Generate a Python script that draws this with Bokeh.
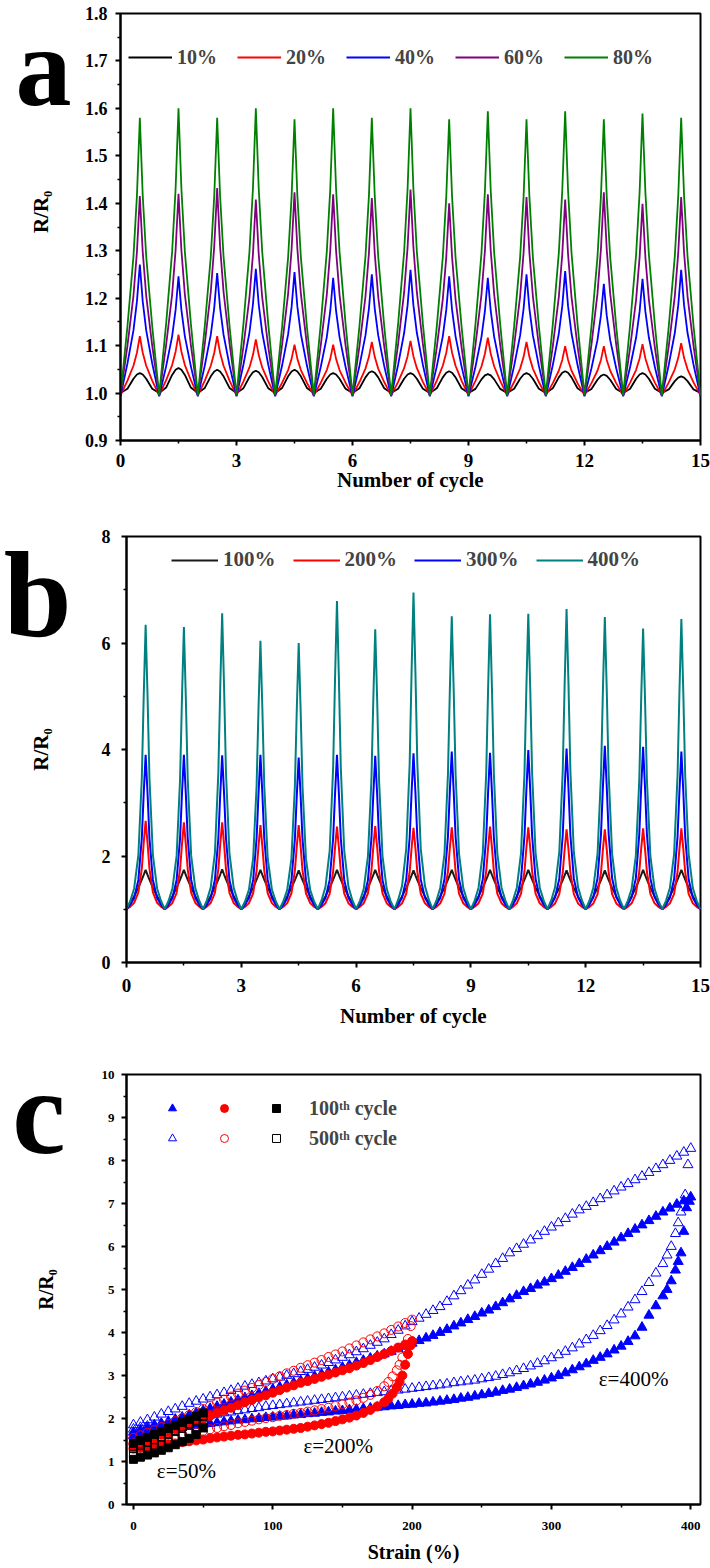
from bokeh.plotting import figure
from bokeh.layouts import column, row
from bokeh.models import (FixedTicker, PrintfTickFormatter, Legend, LegendItem, Label, Range1d,
                          LinearAxis)
from bokeh.embed import file_html
from bokeh.resources import INLINE

FONT = "Liberation Serif"

# ---------------- Panel a : small strains ----------------
A_LABELS = ["10%", "20%", "40%", "60%", "80%"]
A_COLORS = ["black", "red", "blue", "purple", "green"]
A_PEAK_10 = [1.042, 1.053, 1.049, 1.047, 1.049, 1.042, 1.046, 1.042, 1.046, 1.040, 1.042, 1.046, 1.039, 1.042, 1.035]
A_PEAK_20 = [1.120, 1.123, 1.120, 1.113, 1.102, 1.102, 1.108, 1.110, 1.120, 1.117, 1.108, 1.099, 1.099, 1.103, 1.105]
A_PEAK_40 = [1.271, 1.246, 1.253, 1.262, 1.255, 1.243, 1.250, 1.260, 1.246, 1.243, 1.250, 1.257, 1.230, 1.241, 1.260]
A_PEAK_60 = [1.415, 1.420, 1.432, 1.408, 1.423, 1.419, 1.411, 1.429, 1.400, 1.419, 1.413, 1.408, 1.423, 1.399, 1.413]
A_PEAK_80 = [1.580, 1.600, 1.580, 1.600, 1.577, 1.600, 1.580, 1.600, 1.577, 1.594, 1.577, 1.594, 1.577, 1.589, 1.580]
A_MIN = [1.000, 0.995, 0.993, 0.995, 0.995]
# cycle shape: phase within a cycle -> fraction of the rise
A_PHASE = [0.0, 0.18, 0.335, 0.425, 0.5]
A_RISE = [0.0, 0.25, 0.5, 0.72, 1.0]
A_RISE_BLACK = [0.0, 0.22, 0.72, 0.93, 1.0]

# ---------------- Panel b : large strains ----------------
B_LABELS = ["100%", "200%", "300%", "400%"]
B_COLORS = ["#1a1a1a", "red", "blue", "#008080"]
B_PEAK_100 = [1.74, 1.74, 1.75, 1.74, 1.73, 1.74, 1.74, 1.73, 1.74, 1.74, 1.74, 1.73, 1.73, 1.74, 1.74]
B_PEAK_200 = [2.66, 2.63, 2.63, 2.58, 2.58, 2.55, 2.56, 2.53, 2.54, 2.55, 2.54, 2.50, 2.50, 2.52, 2.52]
B_PEAK_300 = [3.90, 3.90, 3.89, 3.90, 3.85, 3.90, 3.88, 3.93, 3.96, 3.94, 3.99, 4.02, 4.07, 4.05, 3.96]
B_PEAK_400 = [6.34, 6.30, 6.56, 6.04, 6.00, 6.79, 6.26, 6.95, 6.50, 6.54, 6.55, 6.64, 6.49, 6.27, 6.45]
B_MIN = 1.0
B_PHASE = [0.0, 0.1, 0.2, 0.31, 0.4, 0.45, 0.5]
B_RISE = [0.0, 0.03, 0.073, 0.19, 0.46, 0.75, 1.0]
B_RISE_BLACK = [0.0, 0.16, 0.33, 0.55, 0.75, 0.87, 1.0]

# ---------------- Panel c : hysteresis loops ----------------
S400_UP = list(range(0, 401, 5))
V400_FILLED_UP = [1.68, 1.73, 1.78, 1.83, 1.88, 1.93, 1.98, 2.03, 2.08, 2.13,
                  2.18, 2.23, 2.28, 2.33, 2.38, 2.43, 2.48, 2.53, 2.58, 2.63,
                  2.68, 2.73, 2.78, 2.83, 2.88, 2.93, 2.98, 3.03, 3.08, 3.13,
                  3.19, 3.24, 3.30, 3.35, 3.40, 3.45, 3.50, 3.56, 3.62, 3.68,
                  3.75, 3.81, 3.87, 3.93, 4.00, 4.07, 4.15, 4.22, 4.30, 4.37,
                  4.45, 4.52, 4.60, 4.69, 4.78, 4.86, 4.95, 5.02, 5.10, 5.17,
                  5.25, 5.33, 5.42, 5.51, 5.60, 5.70, 5.80, 5.90, 6.00, 6.10,
                  6.20, 6.30, 6.40, 6.50, 6.60, 6.70, 6.80, 6.89, 6.98, 7.06,
                  7.15]
V400_OPEN_UP = [1.85, 1.91, 1.97, 2.03, 2.10, 2.16, 2.22, 2.28, 2.35, 2.40,
                2.45, 2.50, 2.55, 2.60, 2.65, 2.70, 2.75, 2.79, 2.83, 2.87,
                2.92, 2.96, 3.00, 3.04, 3.09, 3.14, 3.19, 3.24, 3.30, 3.36,
                3.42, 3.48, 3.55, 3.62, 3.70, 3.77, 3.85, 3.95, 4.05, 4.15,
                4.25, 4.33, 4.42, 4.51, 4.60, 4.72, 4.85, 4.97, 5.10, 5.22,
                5.35, 5.47, 5.60, 5.72, 5.85, 5.95, 6.05, 6.15, 6.25, 6.35,
                6.45, 6.55, 6.65, 6.75, 6.85, 6.93, 7.02, 7.11, 7.20, 7.29,
                7.38, 7.46, 7.55, 7.63, 7.72, 7.81, 7.90, 8.00, 8.10, 8.19,
                8.28]
S400_FILLED_LOW = list(range(0, 381, 5)) + [383, 386, 389, 391, 393, 395, 397, 399]
V400_FILLED_LOW = [1.60, 1.63, 1.66, 1.69, 1.72, 1.75, 1.77, 1.80, 1.82, 1.84,
                   1.86, 1.88, 1.90, 1.92, 1.94, 1.96, 1.97, 1.99, 2.00, 2.02,
                   2.03, 2.05, 2.06, 2.08, 2.09, 2.11, 2.12, 2.14, 2.15, 2.17,
                   2.18, 2.20, 2.21, 2.23, 2.24, 2.26, 2.27, 2.29, 2.30, 2.32,
                   2.33, 2.35, 2.36, 2.38, 2.40, 2.42, 2.44, 2.47, 2.49, 2.52,
                   2.55, 2.58, 2.61, 2.65, 2.68, 2.72, 2.76, 2.80, 2.84, 2.89,
                   2.94, 3.00, 3.06, 3.13, 3.20, 3.27, 3.35, 3.42, 3.50, 3.59,
                   3.68, 3.79, 3.92, 4.12, 4.40, 4.62, 4.85,
                   5.00, 5.20, 5.45, 5.65, 5.85, 6.35, 6.90, 7.05]
S400_OPEN_LOW = list(range(0, 381, 5)) + [383, 386, 389, 391, 393, 396, 398]
V400_OPEN_LOW = [1.75, 1.79, 1.82, 1.85, 1.88, 1.91, 1.94, 1.97, 2.00, 2.03,
                 2.05, 2.08, 2.10, 2.13, 2.15, 2.18, 2.20, 2.23, 2.25, 2.28,
                 2.30, 2.32, 2.34, 2.36, 2.38, 2.40, 2.42, 2.44, 2.46, 2.48,
                 2.50, 2.52, 2.54, 2.56, 2.58, 2.60, 2.62, 2.64, 2.66, 2.68,
                 2.70, 2.72, 2.74, 2.76, 2.78, 2.80, 2.83, 2.85, 2.87, 2.89,
                 2.92, 2.95, 2.98, 3.02, 3.06, 3.11, 3.16, 3.22, 3.28, 3.34,
                 3.41, 3.48, 3.56, 3.64, 3.73, 3.83, 3.93, 4.04, 4.16, 4.29,
                 4.43, 4.59, 4.76, 4.95, 5.16, 5.38, 5.60,
                 5.80, 6.00, 6.30, 6.55, 6.80, 7.20, 7.90]

S200_UP = list(range(0, 201, 5))
V200_FILLED_UP = [1.40, 1.45, 1.51, 1.56, 1.62, 1.68, 1.75, 1.81, 1.88, 1.94,
                  2.00, 2.06, 2.13, 2.19, 2.25, 2.31, 2.38, 2.43, 2.49, 2.54,
                  2.60, 2.66, 2.72, 2.77, 2.83, 2.87, 2.92, 2.97, 3.02, 3.07,
                  3.12, 3.17, 3.23, 3.29, 3.36, 3.43, 3.50, 3.57, 3.65, 3.72,
                  3.80]
V200_OPEN_UP = [1.55, 1.61, 1.67, 1.73, 1.80, 1.87, 1.94, 2.01, 2.08, 2.15,
                2.22, 2.29, 2.37, 2.44, 2.51, 2.58, 2.65, 2.71, 2.78, 2.85,
                2.92, 2.98, 3.05, 3.11, 3.18, 3.24, 3.30, 3.36, 3.43, 3.49,
                3.56, 3.63, 3.70, 3.77, 3.84, 3.91, 3.98, 4.06, 4.14, 4.22,
                4.30]
S200_LOW = list(range(0, 181, 5)) + [183, 186, 189, 191, 193, 195, 197, 199]
V200_FILLED_LOW = [1.30, 1.32, 1.34, 1.36, 1.38, 1.40, 1.42, 1.45, 1.47, 1.49,
                   1.51, 1.54, 1.56, 1.58, 1.60, 1.62, 1.63, 1.65, 1.67, 1.69,
                   1.70, 1.72, 1.74, 1.76, 1.78, 1.81, 1.84, 1.87, 1.90, 1.94,
                   1.98, 2.02, 2.07, 2.13, 2.20, 2.28, 2.38,
                   2.47, 2.58, 2.72, 2.85, 3.00, 3.25, 3.50, 3.70]
V200_OPEN_LOW = [1.42, 1.45, 1.47, 1.50, 1.52, 1.55, 1.58, 1.61, 1.65, 1.68,
                 1.71, 1.75, 1.78, 1.82, 1.85, 1.89, 1.92, 1.95, 1.98, 2.01,
                 2.03, 2.06, 2.08, 2.11, 2.13, 2.16, 2.19, 2.22, 2.25, 2.29,
                 2.33, 2.37, 2.42, 2.48, 2.55, 2.64, 2.75,
                 2.85, 2.98, 3.12, 3.25, 3.42, 3.62, 3.85, 4.15]

S50 = list(range(0, 51, 5))
V50_FILLED_LOW = [1.05, 1.10, 1.15, 1.20, 1.26, 1.32, 1.39, 1.46, 1.54, 1.63, 1.78]
V50_OPEN_LOW = [1.17, 1.22, 1.27, 1.32, 1.38, 1.44, 1.51, 1.58, 1.66, 1.75, 1.88]
V50_OPEN_UP = [1.30, 1.37, 1.44, 1.51, 1.58, 1.65, 1.72, 1.80, 1.88, 1.96, 2.05]
V50_FILLED_UP = [1.42, 1.49, 1.56, 1.63, 1.70, 1.77, 1.84, 1.91, 1.98, 2.05, 2.13]


def cycle_curve(peaks, base, phase, rise):
    xs, ys = [], []
    for k, pk in enumerate(peaks):
        start = 0 if k == 0 else 1
        for ph, r in list(zip(phase, rise))[start:]:
            xs.append(k + ph)
            ys.append(base + (pk - base) * r)
        for ph, r in reversed(list(zip(phase, rise))[:-1]):
            xs.append(k + 1 - ph)
            ys.append(base + (pk - base) * r)
    return xs, ys


def style(p, xtick_size, ytick_size, title_size, xl_standoff, xt_standoff, yl_standoff, yt_standoff):
    p.xgrid.visible = False
    p.ygrid.visible = False
    p.outline_line_color = "black"
    p.outline_line_width = 2
    p.outline_line_alpha = 1
    p.background_fill_color = "white"
    p.border_fill_color = "white"
    for ax, sz in ((p.xaxis[0], xtick_size), (p.yaxis[0], ytick_size)):
        ax.axis_line_width = 2
        ax.axis_line_color = "black"
        ax.major_tick_line_width = 2
        ax.minor_tick_line_width = 1.5
        ax.major_tick_in = 0
        ax.major_tick_out = 5
        ax.minor_tick_in = 0
        ax.minor_tick_out = 3
        ax.major_label_text_font = FONT
        ax.major_label_text_font_style = "bold"
        ax.major_label_text_font_size = sz
        ax.major_label_text_color = "black"
        ax.axis_label_text_font = FONT
        ax.axis_label_text_font_style = "bold"
        ax.axis_label_text_font_size = title_size
        ax.axis_label_text_color = "black"
    p.xaxis[0].axis_label_standoff = xl_standoff
    p.xaxis[0].major_label_standoff = xt_standoff
    p.yaxis[0].axis_label_standoff = yl_standoff
    p.yaxis[0].major_label_standoff = yt_standoff


def letter_axis(p, ypos, letter, size, standoff):
    ax = LinearAxis(ticker=FixedTicker(ticks=[ypos], minor_ticks=[]),
                    formatter=PrintfTickFormatter(format=letter),
                    axis_line_color=None, major_tick_line_color=None, minor_tick_line_color=None,
                    major_tick_in=0, major_tick_out=0, minor_tick_in=0, minor_tick_out=0,
                    major_label_standoff=standoff, major_label_text_font=FONT,
                    major_label_text_font_style="bold", major_label_text_font_size=size,
                    major_label_text_color="black")
    p.add_layout(ax, "left")


def no_frame_legend(items, loc, **kw):
    return Legend(items=items, location=loc, padding=0, margin=0, border_line_alpha=0,
                  background_fill_alpha=0, label_text_font=FONT, label_text_font_style="bold",
                  **kw)


# ---------- figure a (with a narrow side strip for the panel letter and y title) ----------
SIDE_W, A_H = 75, 508
la = figure(width=SIDE_W, height=A_H, x_range=Range1d(0, SIDE_W), y_range=Range1d(0, A_H),
            output_backend="svg", toolbar_location=None, min_border=0)
la.axis.visible = False
la.grid.visible = False
la.outline_line_color = None
la.background_fill_color = "white"
la.border_fill_color = "white"
la.add_layout(Label(x=43, y=A_H - 64, text="a", text_font=FONT, text_font_style="bold",
                    text_font_size="112px", text_align="center", text_baseline="middle",
                    text_color="black"))
la.add_layout(Label(x=40, y=A_H - 236, text="R/R\u2080", text_font=FONT, text_font_style="bold",
                    text_font_size="21px", text_align="center", text_baseline="middle",
                    angle=90, angle_units="deg", text_color="black"))

pa = figure(width=710 - SIDE_W, height=A_H, x_range=Range1d(0, 15), y_range=Range1d(0.9, 1.8),
            output_backend="svg", toolbar_location=None,
            min_border_left=120 - SIDE_W, min_border_right=10, min_border_top=13, min_border_bottom=68)
style(pa, "19px", "18px", "21px", -2, 8, 10, 8)
pa.xaxis[0].ticker = FixedTicker(ticks=[0, 3, 6, 9, 12, 15], minor_ticks=[1.5, 4.5, 7.5, 10.5, 13.5])
pa.yaxis[0].ticker = FixedTicker(ticks=[0.9 + 0.1 * i for i in range(10)],
                                 minor_ticks=[0.95 + 0.1 * i for i in range(9)])
pa.yaxis[0].formatter = PrintfTickFormatter(format="%.1f")
pa.xaxis[0].axis_label = "Number of cycle"

a_items = []
for lab, col, pk, base in zip(A_LABELS, A_COLORS, [A_PEAK_10, A_PEAK_20, A_PEAK_40, A_PEAK_60, A_PEAK_80], A_MIN):
    rise = A_RISE_BLACK if col == "black" else A_RISE
    xs, ys = cycle_curve(pk, base, A_PHASE, rise)
    r = pa.line(xs, ys, line_color=col, line_width=1.8)
    a_items.append(LegendItem(label=lab, renderers=[r]))
pa.add_layout(no_frame_legend(a_items, (8, 371), orientation="horizontal", glyph_width=44,
                              glyph_height=24, label_standoff=5, spacing=20,
                              label_text_font_size="20px"))

# ---------- figure b ----------
pb = figure(width=710, height=537, x_range=Range1d(0, 15), y_range=Range1d(0, 8),
            output_backend="svg", toolbar_location=None,
            min_border_left=120, min_border_right=10, min_border_top=28, min_border_bottom=83)
style(pb, "19px", "18px", "21px", 9, 11, 46, 11)
pb.xaxis[0].ticker = FixedTicker(ticks=[0, 3, 6, 9, 12, 15], minor_ticks=[1.5, 4.5, 7.5, 10.5, 13.5])
pb.yaxis[0].ticker = FixedTicker(ticks=[0, 2, 4, 6, 8], minor_ticks=[1, 3, 5, 7])
pb.xaxis[0].axis_label = "Number of cycle"
pb.yaxis[0].axis_label = "R/R\u2080"

b_items = []
for lab, col, pk in zip(B_LABELS, B_COLORS, [B_PEAK_100, B_PEAK_200, B_PEAK_300, B_PEAK_400]):
    rise = B_RISE_BLACK if lab == "100%" else B_RISE
    xs, ys = cycle_curve(pk, B_MIN, B_PHASE, rise)
    r = pb.line(xs, ys, line_color=col, line_width=2)
    b_items.append(LegendItem(label=lab, renderers=[r]))
pb.add_layout(no_frame_legend(b_items, (45, 390), orientation="horizontal", glyph_width=47,
                              glyph_height=24, label_standoff=5, spacing=17,
                              label_text_font_size="21px"))
letter_axis(pb, 6.92, "b", "122px", -46)

# ---------- figure c ----------
pc = figure(width=710, height=523, x_range=Range1d(-5, 407), y_range=Range1d(0, 10),
            output_backend="svg", toolbar_location=None,
            min_border_left=113, min_border_right=7, min_border_top=29, min_border_bottom=64)
style(pc, "13px", "13px", "20px", 8, 12, 42, 7)
pc.xaxis[0].ticker = FixedTicker(ticks=[0, 100, 200, 300, 400], minor_ticks=[50, 150, 250, 350])
pc.yaxis[0].ticker = FixedTicker(ticks=list(range(11)), minor_ticks=[i + 0.5 for i in range(10)])
pc.xaxis[0].axis_label = "Strain (%)"
pc.yaxis[0].axis_label = "R/R\u2080"

TRI = dict(marker="triangle", size=10, line_color="blue")
CIR = dict(marker="circle", size=9, line_color="red")
SQ = dict(marker="square", size=8, line_color="black")
r_tri_o = pc.scatter(S400_UP, V400_OPEN_UP, fill_color=None, line_width=1, **TRI)
pc.scatter(S400_OPEN_LOW, V400_OPEN_LOW, fill_color=None, line_width=1, **TRI)
r_tri_f = pc.scatter(S400_UP, V400_FILLED_UP, fill_color="blue", **TRI)
pc.scatter(S400_FILLED_LOW, V400_FILLED_LOW, fill_color="blue", **TRI)
r_cir_o = pc.scatter(S200_UP, V200_OPEN_UP, fill_color=None, line_width=1, **CIR)
pc.scatter(S200_LOW, V200_OPEN_LOW, fill_color=None, line_width=1, **CIR)
r_cir_f = pc.scatter(S200_UP, V200_FILLED_UP, fill_color="red", **CIR)
pc.scatter(S200_LOW, V200_FILLED_LOW, fill_color="red", **CIR)
r_sq_o = pc.scatter(S50, V50_OPEN_UP, fill_color=None, line_width=1, **SQ)
pc.scatter(S50, V50_OPEN_LOW, fill_color=None, line_width=1, **SQ)
r_sq_f = pc.scatter(S50, V50_FILLED_UP, fill_color="black", **SQ)
pc.scatter(S50, V50_FILLED_LOW, fill_color="black", **SQ)

LEG_C = dict(orientation="vertical", glyph_width=20, glyph_height=24, spacing=6,
             label_standoff=23, label_text_font_size="20px")
pc.add_layout(no_frame_legend([LegendItem(label="", renderers=[r_tri_f]),
                               LegendItem(label="", renderers=[r_tri_o])], (36, 354), **LEG_C))
pc.add_layout(no_frame_legend([LegendItem(label="", renderers=[r_cir_f]),
                               LegendItem(label="", renderers=[r_cir_o])], (88, 354), **LEG_C))
pc.add_layout(no_frame_legend([LegendItem(label="100\u1d57\u02b0 cycle", renderers=[r_sq_f]),
                               LegendItem(label="500\u1d57\u02b0 cycle", renderers=[r_sq_o])],
                              (140, 354), **LEG_C))

for txt, sx, sy in [("\u03b5=50%", 38, 0.79), ("\u03b5=200%", 147, 1.37), ("\u03b5=400%", 359, 2.93)]:
    pc.add_layout(Label(x=sx, y=sy, text=txt, text_font=FONT, text_font_size="21px",
                        text_align="center", text_baseline="middle", text_color="black"))
letter_axis(pc, 9.14, "c", "120px", -34)

layout = column(row(la, pa, spacing=0), pb, pc, spacing=0)
open("out.html", "w").write(file_html(layout, INLINE))
